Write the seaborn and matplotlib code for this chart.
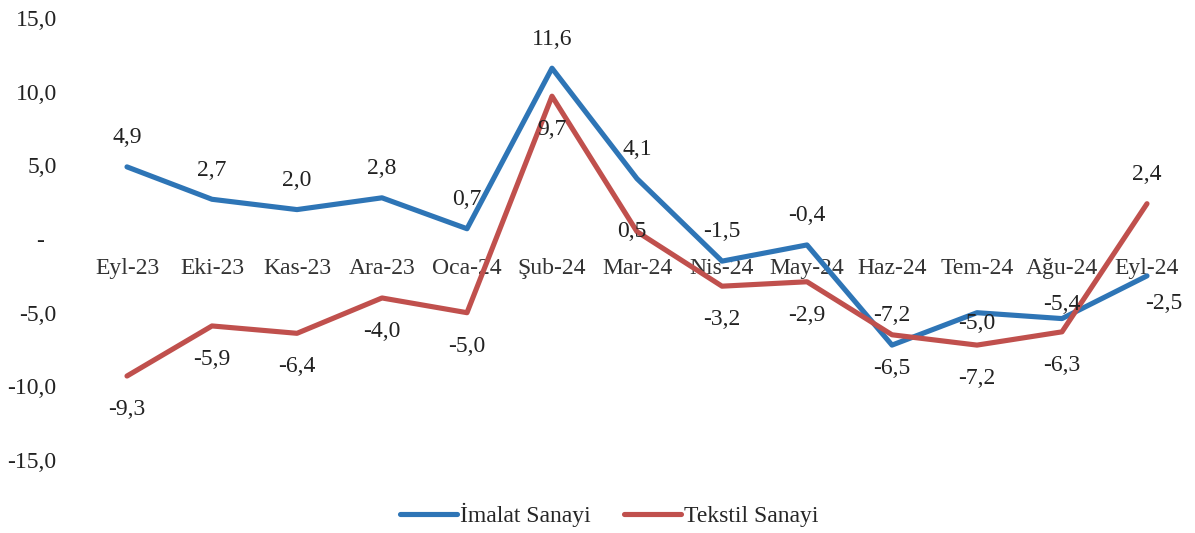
import pandas as pd
import matplotlib.pyplot as plt
import seaborn as sns

months = ['Eyl-23', 'Eki-23', 'Kas-23', 'Ara-23', 'Oca-24', 'Şub-24', 'Mar-24',
          'Nis-24', 'May-24', 'Haz-24', 'Tem-24', 'Ağu-24', 'Eyl-24']
imalat = [4.9, 2.7, 2.0, 2.8, 0.7, 11.6, 4.1, -1.5, -0.4, -7.2, -5.0, -5.4, -2.5]
tekstil = [-9.3, -5.9, -6.4, -4.0, -5.0, 9.7, 0.5, -3.2, -2.9, -6.5, -7.2, -6.3, 2.4]
series_names = ['İmalat Sanayi', 'Tekstil Sanayi']
y_ticks = [-15, -10, -5, 0, 5, 10, 15]

sns.set_style("white")
plt.rcParams['font.family'] = ['Liberation Serif', 'DejaVu Serif']
FS = 17

df = pd.DataFrame({
    'ay': list(range(len(months))) * 2,
    'deger': imalat + tekstil,
    'seri': [series_names[0]] * len(months) + [series_names[1]] * len(months),
})

colors = {series_names[0]: '#2E75B6', series_names[1]: '#C0504D'}

fig = plt.figure(figsize=(11.95, 5.33), dpi=100)
ax = fig.add_axes([0.0707, 0.137, 0.9247, 0.829])

sns.lineplot(data=df, x='ay', y='deger', hue='seri', palette=colors,
             linewidth=3.7, ax=ax, zorder=3, legend=True)

ax.set_xlim(-0.5, 12.5)
ax.set_ylim(-15, 15)
ax.set_yticks(y_ticks)
# accounting style: zero shown as a dash
ax.set_yticklabels([f"{v:.1f}".replace('.', ',') if v != 0 else '-  ' for v in y_ticks],
                   fontsize=FS, color='#222222')
ax.tick_params(axis='y', length=0, pad=20)
ax.set_xticks([])
ax.set_xlabel('')
ax.set_ylabel('')
for s in ax.spines.values():
    s.set_visible(False)

# category labels sit just under the zero line, behind the lines
for i, m in enumerate(months):
    ax.annotate(m, (i, 0), xytext=(0, -21), textcoords='offset points',
                ha='center', va='center', fontsize=FS, color='#333333', zorder=1)

# data label offsets in points (dx, dy)
off_blue = [(0, 21)] * len(months)
off_blue[10] = (0, -8)
off_blue[11] = (0, 10)
off_blue[12] = (12, -20)
off_red = [(0, -24)] * len(months)
off_red[6] = (-4, 0)
off_red[12] = (0, 21)

for i in range(len(months)):
    ax.annotate(f"{imalat[i]:.1f}".replace('.', ','), (i, imalat[i]), xytext=off_blue[i],
                textcoords='offset points', ha='center', va='center',
                fontsize=FS, color='#222222', zorder=4)
    ax.annotate(f"{tekstil[i]:.1f}".replace('.', ','), (i, tekstil[i]), xytext=off_red[i],
                textcoords='offset points', ha='center', va='center',
                fontsize=FS, color='#222222', zorder=4)

handles, labels = ax.get_legend_handles_labels()
ax.legend(handles, labels, loc='center', bbox_to_anchor=(0.475, -0.125), ncol=2,
          frameon=False, fontsize=FS, handlelength=2.4, handletextpad=0.15,
          columnspacing=1.4)

fig.savefig('out.png', dpi=100)
